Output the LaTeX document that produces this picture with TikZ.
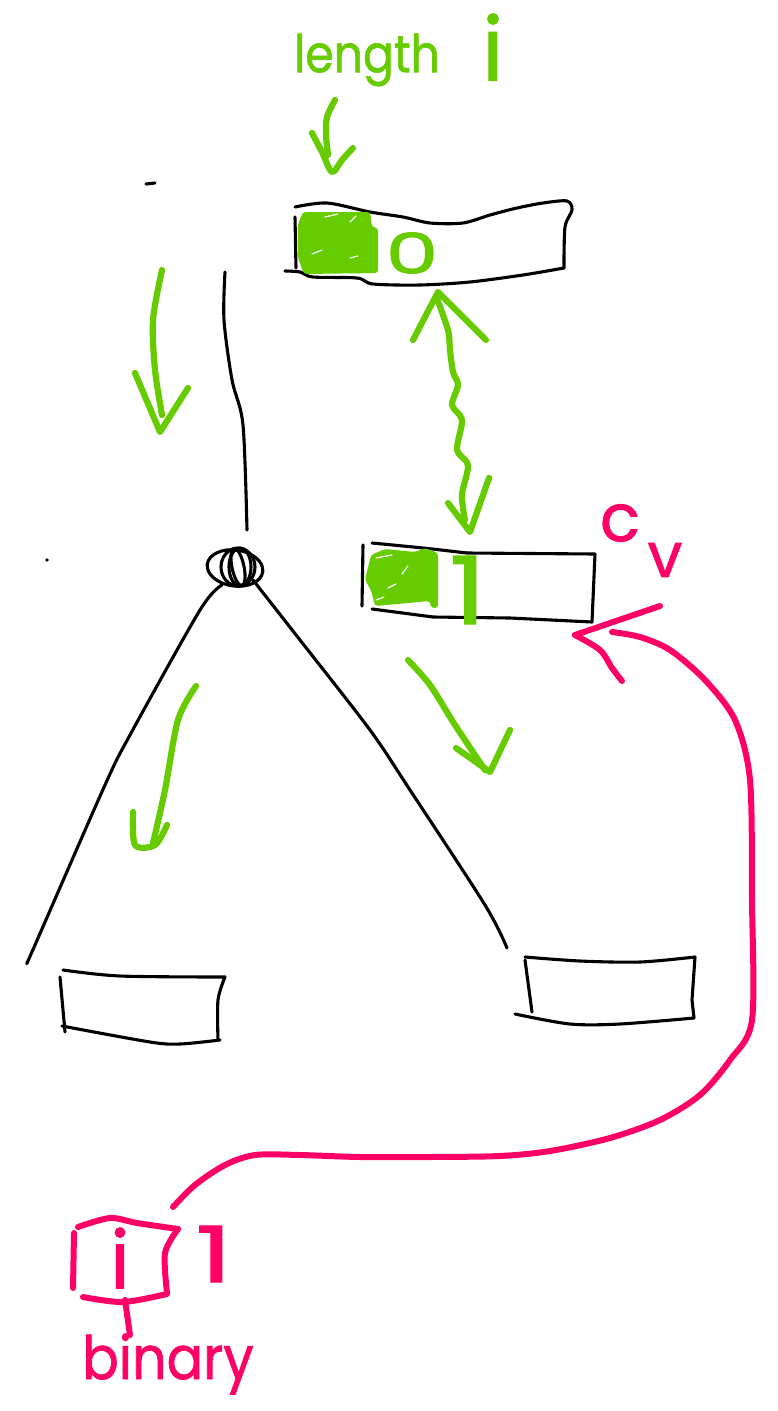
\documentclass[tikz,border=0pt]{standalone}
\usepackage{xcolor}
\usepackage{fontspec}
\setmainfont{Poppins}[RawFeature={embolden=1.2}]
\usetikzlibrary{arrows.meta,positioning,calc}
\definecolor{sketchgreen}{HTML}{66CC00}
\definecolor{sketchpink}{HTML}{FF0066}

\begin{document}
\begin{tikzpicture}[
  x=1pt, y=-1pt,
  inkline/.style={draw=black, line width=3.1pt, line cap=round, line join=round},
  greenline/.style={draw=sketchgreen, line width=6.2pt, line cap=round, line join=round},
  pinkline/.style={draw=sketchpink, line width=6pt, line cap=round, line join=round},
  fleck/.style={draw=white, line width=1.2pt, line cap=round},
  greentext/.style={text=sketchgreen, inner sep=0pt},
  pinktext/.style={text=sketchpink, inner sep=0pt},
]
\useasboundingbox[fill=white] (0,0) rectangle (778,1411);

\coordinate (rootend) at (225,272);
\coordinate (knot) at (235,568);
\coordinate (leftleaf) at (27,963);
\coordinate (rightleaf) at (507,948);

\node[greentext, font=\fontsize{52}{52}\selectfont, xscale=0.88] (lengthlab) at (367,60) {length};
\node[greentext, font=\fontsize{88}{88}\selectfont] (indexlab) at (493,47) {i};
\draw[greenline] plot[smooth] coordinates {(335,100) (327,117) (326,135) (328,155)};
\draw[greenline] plot[smooth] coordinates {(312,133) (322,152) (332,172) (342,160) (353,148)};

\draw[inkline] plot[smooth] coordinates {(295,207) (327,203) (370,212) (403,217) (430,223) (463,223) (490,215) (517,208) (543,203) (567,201) (572,210) (565,227) (564,268)};
\draw[inkline] plot[smooth] coordinates {(564,268) (523,275) (470,282) (420,285) (373,284) (357,278) (313,277) (300,272) (285,271)};
\draw[inkline] (295,217) -- (296,268);
\fill[sketchgreen, rounded corners=3pt] (298,224) -- (303,212) -- (370,212) -- (372,227) -- (378,228) -- (378,273) -- (304,274) -- (298,258) -- cycle;
\draw[fleck] (325,217) -- (338,214) (350,222) -- (356,216) (312,254) -- (322,250) (350,258) -- (358,256);
\node[greentext, font=\fontsize{56}{56}\selectfont, xscale=1.5] (zerolab) at (412,253) {0};

\draw[greenline] (413,340) -- (438,292) -- (486,340);
\draw[greenline] plot[smooth] coordinates {(436,296) (448,330) (450,350) (453,372) (458,385) (452,405) (462,420) (457,450) (468,465) (462,495) (465,520)};
\draw[greenline] (448,503) -- (470,532) -- (489,478);

\draw[inkline] (146,184) -- (155,183);
\fill[black] (47,560) circle (1.8);

\draw[greenline] plot[smooth] coordinates {(162,270) (153,320) (155,370) (162,415)};
\draw[greenline] (135,373) -- (160,432) -- (188,388);

\draw[inkline] plot[smooth] coordinates {(rootend) (224,320) (232,380) (243,425) (247,530)};
\draw[inkline, rotate around={-8:(knot)}] (knot) ellipse (28 and 18);
\draw[inkline] (238,567) ellipse (17 and 19);
\draw[inkline] (240,567) ellipse (11 and 19);
\draw[inkline, rotate around={12:(238,567)}] (238,567) ellipse (6 and 19);
\draw[inkline] plot[smooth] coordinates {(222,585) (200,610) (130,735) (105,785) (35,945) (leftleaf)};
\draw[inkline] plot[smooth] coordinates {(253,580) (300,640) (370,730) (410,790) (485,905) (rightleaf)};

\draw[inkline] (363,545) -- (362,606);
\draw[inkline] plot[smooth] coordinates {(372,543) (423,548) (467,553)};
\draw[inkline] (467,553) -- (595,554) -- (592,622) -- (510,618) -- (433,617) -- (372,609);
\fill[sketchgreen, rounded corners=3pt] (371,555) -- (385,549) -- (415,552) -- (425,548) -- (438,553) -- (438,608) -- (431,608) -- (430,601) -- (375,606) -- (371,590) -- (365,580) -- cycle;
\draw[fleck] (376,558) -- (392,555) (408,566) -- (402,574) (388,588) -- (396,584) (376,600) -- (384,597);
\node[greentext, font=\fontsize{94}{94}\selectfont, xscale=1.25] (onelab) at (468,590) {1};

\draw[greenline] plot[smooth] coordinates {(196,686) (178,720) (165,790) (153,843)};
\draw[greenline] plot[smooth] coordinates {(133,812) (135,845) (155,845) (167,825)};
\draw[greenline] plot[smooth] coordinates {(408,660) (430,685) (455,725) (485,770)};
\draw[greenline] (456,748) -- (490,772) -- (510,730);

\draw[inkline] plot[smooth] coordinates {(63,970) (120,976) (225,977)};
\draw[inkline] plot[smooth] coordinates {(225,977) (218,1000) (218,1040)};
\draw[inkline] plot[smooth] coordinates {(220,1040) (180,1044) (150,1042) (62,1026)};
\draw[inkline] (60,977) -- (65,1032);

\draw[inkline] plot[smooth] coordinates {(525,957) (580,961) (640,962) (695,957)};
\draw[inkline] (695,957) -- (692,1000) -- (694,1018);
\draw[inkline] plot[smooth] coordinates {(694,1018) (620,1024) (570,1024) (515,1014)};
\draw[inkline] (525,960) -- (532,1012);

\node[pinktext, font=\fontsize{66}{66}\selectfont] (clab) at (620,523) {c};
\node[pinktext, font=\fontsize{62}{62}\selectfont] (vlab) at (665,560) {v};
\draw[pinkline] (660,606) -- (575,635);
\draw[pinkline] plot[smooth] coordinates {(575,635) (600,650) (612,668) (622,681)};
\draw[pinkline] plot[smooth] coordinates {(173,1207) (195,1185) (225,1165) (255,1155) (300,1155) (360,1157) (430,1157) (500,1156) (550,1151) (610,1138) (660,1120) (700,1095) (730,1060) (752,1020) (752,900) (750,780) (735,720) (705,680) (670,650) (640,637) (612,632)};

\draw[pinkline] plot[smooth] coordinates {(78,1227) (110,1218) (137,1223) (178,1229)};
\draw[pinkline] plot[smooth] coordinates {(178,1229) (165,1253) (167,1293)};
\draw[pinkline] plot[smooth] coordinates {(83,1297) (123,1302) (167,1294)};
\draw[pinkline] (74,1233) -- (73,1288);
\node[pinktext, font=\fontsize{80}{80}\selectfont] (bitlab) at (120,1258) {i};
\node[pinktext, font=\fontsize{78}{78}\selectfont, xscale=1.5] (bitone) at (214,1254) {1};
\coordinate (bitfoot) at (125,1300);
\node[pinktext, font=\fontsize{60}{60}\selectfont, xscale=0.9] (binarylab) at (168,1364) {binary};
\draw[pinkline] (bitfoot) -- (130,1335);
\end{tikzpicture}
\end{document}
